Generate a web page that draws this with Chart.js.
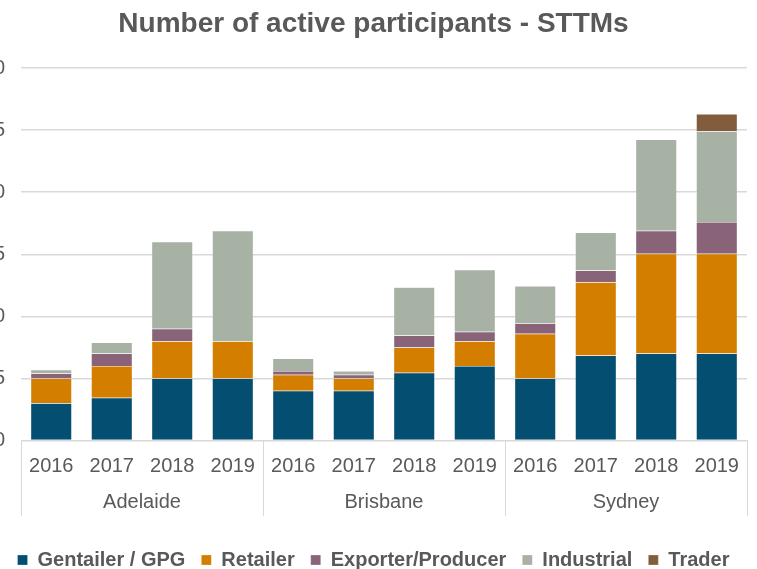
<!DOCTYPE html>
<html>
<head>
<meta charset="utf-8">
<script src="https://cdn.jsdelivr.net/npm/chart.js@4"></script>
<style>
  body { margin: 0; background: #fff; }
  #wrap { position: relative; width: 757px; height: 569px; }
</style>
</head>
<body>
<div id="wrap"><canvas id="graph"></canvas></div>
<script>
const years = ['2016', '2017', '2018', '2019', '2016', '2017', '2018', '2019', '2016', '2017', '2018', '2019']
const cities = ['Adelaide', 'Brisbane', 'Sydney']
const yTicks = [0, 5, 10, 15, 20, 25, 30]

const gentailer = [3, 3.45, 5, 5, 4, 4, 5.45, 6, 5, 6.85, 7, 7]
const retailer = [2, 2.55, 3, 3, 1.3, 1, 2.05, 2, 3.6, 5.9, 8.05, 8.05]
const exporter = [0.4, 1, 1, 0, 0.3, 0.3, 0.95, 0.75, 0.85, 0.95, 1.85, 2.55]
const industrial = [0.3, 0.9, 7, 8.9, 1, 0.3, 3.9, 5, 3, 3.05, 7.35, 7.3]
const trader = [0, 0, 0, 0, 0, 0, 0, 0, 0, 0, 0, 1.4]

const grey = '#595959'
Chart.defaults.font.family = "'Liberation Sans', Arial, sans-serif"
Chart.defaults.color = grey

function makeSet(label, data, color){
    return {
        label: label,
        data: data,
        backgroundColor: color,
        borderColor: 'rgba(255,255,255,0.5)',
        borderWidth: 0.5,
        barPercentage: 0.68,
        categoryPercentage: 1
    }
}

// vertical lines between the city groups, under the plot
const groupLines = {
    id: 'groupLines',
    afterDraw(chart){
        const x = chart.scales.x
        const x2 = chart.scales.x2
        const ctx = chart.ctx
        const xs = [x.left]
        for(let i = 4; i < years.length; i += 4){
            xs.push((x.getPixelForValue(i - 1) + x.getPixelForValue(i)) / 2)
        }
        xs.push(x.right)
        const bottom = x2.top + x2.options.ticks.padding + 26
        ctx.save()
        ctx.strokeStyle = '#d9d9d9'
        ctx.lineWidth = 1
        for(let px of xs){
            ctx.beginPath()
            ctx.moveTo(Math.round(px) + 0.5, chart.chartArea.bottom)
            ctx.lineTo(Math.round(px) + 0.5, bottom)
            ctx.stroke()
        }
        ctx.restore()
    }
}

const ctx = document.getElementById('graph').getContext('2d')
new Chart(ctx, {
    type: 'bar',
    data: {
        labels: years,
        datasets: [
            makeSet('Gentailer / GPG', gentailer, '#044e71'),
            makeSet('Retailer', retailer, '#d47e00'),
            makeSet('Exporter/Producer', exporter, '#896478'),
            makeSet('Industrial', industrial, '#a7b1a4'),
            makeSet('Trader', trader, '#815d3e')
        ]
    },
    options: {
        responsive: true,
        maintainAspectRatio: false,
        animation: false,
        layout: { padding: { top: 0, right: 10, bottom: -11, left: 0 } },
        plugins: {
            title: {
                display: true,
                text: 'Number of active participants - STTMs',
                color: grey,
                font: { size: 28, weight: 'bold' },
                padding: { top: 7, bottom: 27.4 }
            },
            legend: {
                position: 'bottom',
                labels: {
                    color: grey,
                    font: { size: 20, weight: 'bold' },
                    boxWidth: 10,
                    boxHeight: 10,
                    padding: 16
                }
            },
            tooltip: { enabled: false }
        },
        scales: {
            x: {
                stacked: true,
                grid: { display: false, drawTicks: false },
                border: { display: true, color: '#d9d9d9' },
                ticks: { color: grey, font: { size: 20 }, padding: 13.5, maxRotation: 0, autoSkip: false }
            },
            x2: {
                type: 'category',
                labels: cities,
                position: 'bottom',
                offset: true,
                afterFit(scale){ scale.height = 42.5 },
                grid: { display: false, drawTicks: false },
                border: { display: false },
                ticks: { color: grey, font: { size: 20 }, padding: -1.5 }
            },
            y: {
                stacked: true,
                min: 0,
                max: 30,
                afterBuildTicks(scale){ scale.ticks = yTicks.map(v => ({ value: v })) },
                afterFit(scale){ scale.width = 21 },
                grid: { color: '#d9d9d9', lineWidth: 1.5, drawTicks: false },
                border: { display: false },
                ticks: { color: grey, font: { size: 20 }, padding: 16 }
            }
        }
    },
    plugins: [groupLines]
})
</script>
</body>
</html>
